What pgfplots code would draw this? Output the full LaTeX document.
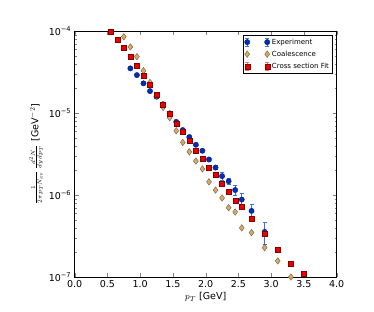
\documentclass[border=0pt]{standalone}
\usepackage{fontspec}
\setmainfont{DejaVu Sans}
\usepackage{pgfplots}
\pgfplotsset{compat=1.18}
\definecolor{expblue}{RGB}{0,45,180}
\definecolor{expbar}{RGB}{60,110,230}
\definecolor{coal}{RGB}{210,170,105}
\definecolor{coalbar}{RGB}{200,160,100}
\definecolor{fitred}{RGB}{235,0,0}
\definecolor{fitbar}{RGB}{255,110,110}
\pgfplotsset{
  twomarks/.style={legend image code/.code={
    \draw[#1, line width=0.6pt] (0pt,-3.8pt)--(0pt,3.8pt) (-1.8pt,3.8pt)--(1.8pt,3.8pt) (-1.8pt,-3.8pt)--(1.8pt,-3.8pt)
      (20pt,-3.8pt)--(20pt,3.8pt) (18.2pt,3.8pt)--(21.8pt,3.8pt) (18.2pt,-3.8pt)--(21.8pt,-3.8pt);
  }},
}
\begin{document}
\begin{tikzpicture}
\begin{axis}[
  name=ax, at={(0,0)}, anchor=south west,
  scale only axis, width=262pt, height=246pt,
  xmin=0, xmax=4, ymode=log, ymin=1e-7, ymax=1e-4,
  xtick={0,0.5,1,1.5,2,2.5,3,3.5,4},
  xticklabel style={/pgf/number format/.cd, fixed, fixed zerofill, precision=1, assume math mode=true},
  ytick={1e-7,1e-6,1e-5,1e-4},
  yticklabels={10\textsuperscript{−7},10\textsuperscript{−6},10\textsuperscript{−5},10\textsuperscript{−4}},
  tick label style={font=\fontsize{9.5}{11}\selectfont},
  tick align=inside, xtick pos=both, ytick pos=both,
  major tick length=4pt, minor tick length=2pt,
  axis line style={line width=0.8pt},
  xlabel={$p_T$ [GeV]},
  ylabel={{\fontsize{8}{9}\selectfont$\frac{1}{2\pi p_T N_{ev}}\,\frac{d^2 N}{dy\,dp_T}$} [GeV$^{-2}$]},
  label style={font=\fontsize{9.5}{11}\selectfont},
  xlabel style={yshift=2pt},
  ylabel style={yshift=-1pt},
  legend style={at={(0.985,0.984)}, anchor=north east, font=\fontsize{7}{8}\selectfont,
    draw=black, line width=0.6pt, row sep=1.2pt, inner sep=1.5pt, cells={anchor=west}},
]
\addplot[only marks, mark=*, mark size=2.7pt, mark options={fill=expblue, draw=expblue!60!black, line width=0.3pt},
  legend image code/.code={
    \draw[expbar, line width=0.6pt] (0pt,-3.8pt)--(0pt,3.8pt) (-1.8pt,3.8pt)--(1.8pt,3.8pt) (-1.8pt,-3.8pt)--(1.8pt,-3.8pt)
      (20pt,-3.8pt)--(20pt,3.8pt) (18.2pt,3.8pt)--(21.8pt,3.8pt) (18.2pt,-3.8pt)--(21.8pt,-3.8pt);
    \path[mark=*, mark size=2.7pt, mark options={fill=expblue, draw=expblue!60!black, line width=0.3pt}] plot[only marks] coordinates {(0pt,0pt) (20pt,0pt)};
  },
  error bars/.cd, y dir=both, y explicit,
  error bar style={expbar, line width=0.7pt},
  error mark options={expbar, rotate=90, mark size=2pt, line width=0.7pt}]
  coordinates {
  (0.85,3.5e-5) +- (0,1.2e-6)
  (0.95,2.9e-5) +- (0,1.0e-6)
  (1.05,2.3e-5) +- (0,0.8e-6)
  (1.15,1.85e-5) +- (0,0.6e-6)
  (1.25,1.58e-5) +- (0,0.5e-6)
  (1.35,1.28e-5) +- (0,0.4e-6)
  (1.45,9.9e-6) +- (0,0.3e-6)
  (1.55,7.8e-6) +- (0,0.25e-6)
  (1.65,6.2e-6) +- (0,0.2e-6)
  (1.75,5.1e-6) +- (0,0.18e-6)
  (1.85,4.1e-6) +- (0,0.15e-6)
  (1.95,3.46e-6) +- (0,0.14e-6)
  (2.05,2.71e-6) +- (0,0.13e-6)
  (2.15,2.16e-6) +- (0,0.13e-6)
  (2.25,1.70e-6) +- (0,0.17e-6)
  (2.35,1.47e-6) +- (0,0.13e-6)
  (2.45,1.15e-6) +- (0,0.15e-6)
  (2.55,8.8e-7) +- (0,1.6e-7)
  (2.70,6.4e-7) +- (0,1.4e-7)
  (2.90,3.55e-7) +- (0,1.05e-7)
  };
\addlegendentry{Experiment}
\addplot[only marks, mark=diamond*, mark size=3.3pt, mark options={fill=coal, draw=coal!45!black, line width=0.3pt},
  legend image code/.code={
    \path[mark=diamond*, mark size=3.3pt, mark options={fill=coal, draw=coal!45!black, line width=0.3pt}] plot[only marks] coordinates {(0pt,0pt) (20pt,0pt)};
  }]
  coordinates {
  (0.75,8.5e-5) (0.85,6.4e-5) (0.95,4.86e-5) (1.05,3.28e-5) (1.15,2.36e-5)
  (1.25,1.62e-5) (1.35,1.17e-5) (1.45,8.75e-6) (1.55,6.07e-6) (1.65,4.37e-6)
  (1.75,3.36e-6) (1.85,2.59e-6) (1.95,2.08e-6) (2.05,1.45e-6) (2.15,1.15e-6)
  (2.25,9.2e-7) (2.35,7.0e-7) (2.45,6.2e-7) (2.55,3.97e-7) (2.70,3.48e-7)
  (2.90,2.28e-7) (3.10,1.57e-7) (3.30,1.0e-7)
  };
\addlegendentry{Coalescence}
\addplot[only marks, mark=square*, mark size=2.5pt, mark options={fill=fitred, draw=fitred!55!black, line width=0.3pt},
  legend image code/.code={
    \draw[fitbar, line width=0.6pt] (0pt,-3.8pt)--(0pt,3.8pt) (-1.8pt,3.8pt)--(1.8pt,3.8pt) (-1.8pt,-3.8pt)--(1.8pt,-3.8pt)
      (20pt,-3.8pt)--(20pt,3.8pt) (18.2pt,3.8pt)--(21.8pt,3.8pt) (18.2pt,-3.8pt)--(21.8pt,-3.8pt);
    \path[mark=square*, mark size=2.5pt, mark options={fill=fitred, draw=fitred!55!black, line width=0.3pt}] plot[only marks] coordinates {(0pt,0pt) (20pt,0pt)};
  },
  error bars/.cd, y dir=both, y explicit,
  error bar style={fitbar, line width=0.7pt},
  error mark options={fitbar, rotate=90, mark size=2pt, line width=0.7pt}]
  coordinates {
  (0.55,9.8e-5) +- (0,3e-6)
  (0.65,7.9e-5) +- (0,2.5e-6)
  (0.75,6.3e-5) +- (0,2e-6)
  (0.85,4.86e-5) +- (0,1.6e-6)
  (0.95,3.77e-5) +- (0,1.3e-6)
  (1.05,2.87e-5) +- (0,1.0e-6)
  (1.15,2.23e-5) +- (0,0.8e-6)
  (1.25,1.66e-5) +- (0,0.6e-6)
  (1.35,1.27e-5) +- (0,0.45e-6)
  (1.45,9.7e-6) +- (0,0.35e-6)
  (1.55,7.5e-6) +- (0,0.27e-6)
  (1.65,5.9e-6) +- (0,0.21e-6)
  (1.75,4.58e-6) +- (0,0.17e-6)
  (1.85,3.46e-6) +- (0,0.13e-6)
  (1.95,2.79e-6) +- (0,0.1e-6)
  (2.05,2.16e-6) +- (0,0.08e-6)
  (2.15,1.78e-6) +- (0,0.07e-6)
  (2.25,1.38e-6) +- (0,0.05e-6)
  (2.35,1.11e-6) +- (0,0.04e-6)
  (2.45,8.6e-7) +- (0,0.35e-7)
  (2.55,7.2e-7) +- (0,0.3e-7)
  (2.70,5.2e-7) +- (0,0.22e-7)
  (2.90,3.39e-7) +- (0,0.15e-7)
  (3.10,2.16e-7) +- (0,0.1e-7)
  (3.30,1.46e-7) +- (0,0.08e-7)
  (3.50,1.1e-7) +- (0,0.06e-7)
  };
\addlegendentry{Cross section Fit}
\end{axis}
\pgfresetboundingbox
\path[use as bounding box] (-74.7pt,-35pt) rectangle (299.3pt,277pt);
\end{tikzpicture}
\end{document}
